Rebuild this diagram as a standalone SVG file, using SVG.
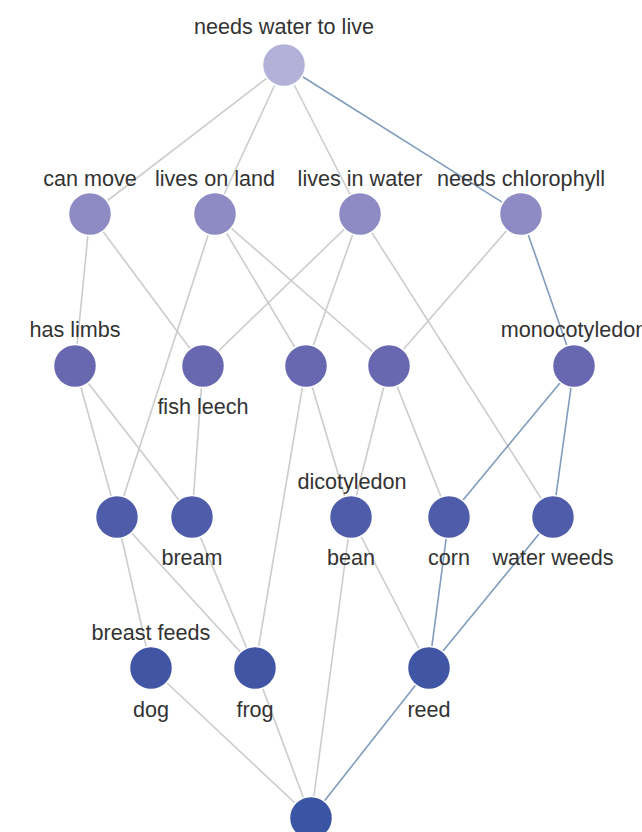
<svg xmlns="http://www.w3.org/2000/svg" width="642" height="832" viewBox="0 0 642 832">
<style>
.e{stroke:#cccccc;stroke-width:1.6;fill:none}
.b{stroke:#7f9cbd;stroke-width:1.6;fill:none}
circle{stroke:#ffffff;stroke-width:1.5}
text{font-family:"Liberation Sans",Arial,sans-serif;font-size:21.6px;fill:#333333;text-anchor:middle}
.l0{fill:#b3b1d7}.l1{fill:#8d8ac4}.l2{fill:#6768b0}.l3{fill:#4f5ca9}.l4{fill:#4055a4}.l5{fill:#3a55a3}
</style>
<g id="connectors">
<line class="e" x1="284" y1="65" x2="90" y2="214"/>
<line class="e" x1="284" y1="65" x2="215" y2="214"/>
<line class="e" x1="284" y1="65" x2="360" y2="214"/>
<line class="b" x1="284" y1="65" x2="521" y2="214"/>
<line class="e" x1="90" y1="214" x2="75" y2="366"/>
<line class="e" x1="90" y1="214" x2="203" y2="366"/>
<line class="e" x1="215" y1="214" x2="117" y2="517"/>
<line class="e" x1="215" y1="214" x2="306" y2="366"/>
<line class="e" x1="215" y1="214" x2="389" y2="366"/>
<line class="e" x1="360" y1="214" x2="203" y2="366"/>
<line class="e" x1="360" y1="214" x2="306" y2="366"/>
<line class="e" x1="360" y1="214" x2="553" y2="517"/>
<line class="e" x1="521" y1="214" x2="389" y2="366"/>
<line class="b" x1="521" y1="214" x2="574" y2="366"/>
<line class="e" x1="75" y1="366" x2="117" y2="517"/>
<line class="e" x1="75" y1="366" x2="192" y2="517"/>
<line class="e" x1="203" y1="366" x2="192" y2="517"/>
<line class="e" x1="306" y1="366" x2="255" y2="668"/>
<line class="e" x1="306" y1="366" x2="351" y2="517"/>
<line class="e" x1="389" y1="366" x2="351" y2="517"/>
<line class="e" x1="389" y1="366" x2="449" y2="517"/>
<line class="b" x1="574" y1="366" x2="449" y2="517"/>
<line class="b" x1="574" y1="366" x2="553" y2="517"/>
<line class="e" x1="117" y1="517" x2="151" y2="668"/>
<line class="e" x1="117" y1="517" x2="255" y2="668"/>
<line class="e" x1="192" y1="517" x2="255" y2="668"/>
<line class="e" x1="351" y1="517" x2="311" y2="818"/>
<line class="e" x1="351" y1="517" x2="429" y2="668"/>
<line class="b" x1="449" y1="517" x2="429" y2="668"/>
<line class="b" x1="553" y1="517" x2="429" y2="668"/>
<line class="e" x1="151" y1="668" x2="311" y2="818"/>
<line class="e" x1="255" y1="668" x2="311" y2="818"/>
<line class="b" x1="429" y1="668" x2="311" y2="818"/>
</g>
<g id="n-water"><circle class="l0" cx="284" cy="65" r="21.5"/><text x="284" y="34">needs water to live</text></g>
<g id="n-canmove"><circle class="l1" cx="90" cy="214" r="21.5"/><text x="90" y="186">can move</text></g>
<g id="n-land"><circle class="l1" cx="215" cy="214" r="21.5"/><text x="215" y="186">lives on land</text></g>
<g id="n-inwater"><circle class="l1" cx="360" cy="214" r="21.5"/><text x="360" y="186">lives in water</text></g>
<g id="n-chloro"><circle class="l1" cx="521" cy="214" r="21.5"/><text x="521" y="186">needs chlorophyll</text></g>
<g id="n-limbs"><circle class="l2" cx="75" cy="366" r="21.5"/><text x="75" y="337">has limbs</text></g>
<g id="n-fishleech"><circle class="l2" cx="203" cy="366" r="21.5"/><text x="203" y="414">fish leech</text></g>
<g id="n-c306"><circle class="l2" cx="306" cy="366" r="21.5"/></g>
<g id="n-c389"><circle class="l2" cx="389" cy="366" r="21.5"/></g>
<g id="n-mono"><circle class="l2" cx="574" cy="366" r="21.5"/><text x="574" y="337">monocotyledon</text></g>
<g id="n-c117"><circle class="l3" cx="117" cy="517" r="21.5"/></g>
<g id="n-bream"><circle class="l3" cx="192" cy="517" r="21.5"/><text x="192" y="565">bream</text></g>
<g id="n-bean"><circle class="l3" cx="351" cy="517" r="21.5"/><text x="352" y="489">dicotyledon</text><text x="351" y="565">bean</text></g>
<g id="n-corn"><circle class="l3" cx="449" cy="517" r="21.5"/><text x="449" y="565">corn</text></g>
<g id="n-weeds"><circle class="l3" cx="553" cy="517" r="21.5"/><text x="553" y="565">water weeds</text></g>
<g id="n-dog"><circle class="l4" cx="151" cy="668" r="21.5"/><text x="151" y="640">breast feeds</text><text x="151" y="717">dog</text></g>
<g id="n-frog"><circle class="l4" cx="255" cy="668" r="21.5"/><text x="255" y="717">frog</text></g>
<g id="n-reed"><circle class="l4" cx="429" cy="668" r="21.5"/><text x="429" y="717">reed</text></g>
<g id="n-bottom"><circle class="l5" cx="311" cy="818" r="21.5"/></g>
</svg>
